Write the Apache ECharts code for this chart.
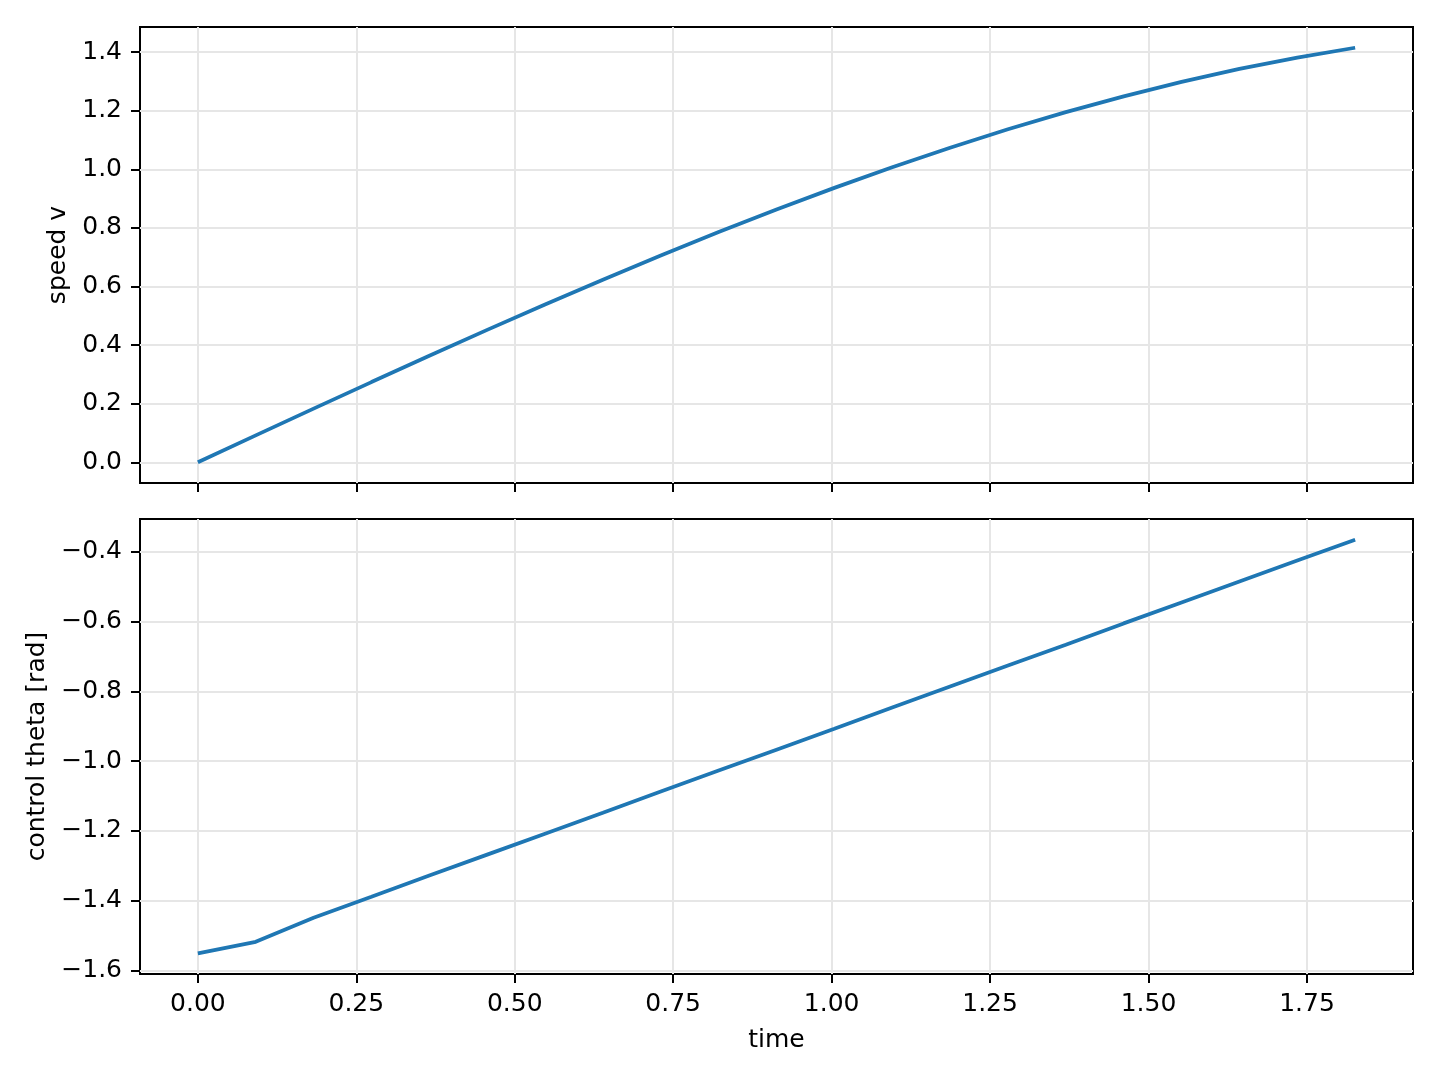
<!DOCTYPE html>
<html>
<head>
<meta charset="utf-8">
<script src="https://cdn.jsdelivr.net/npm/echarts@6/dist/echarts.min.js"></script>
<style>
html,body{margin:0;padding:0;background:#fff;}
#chart{width:1440px;height:1080px;}
</style>
</head>
<body>
<div id="chart"></div>
<script>
const time = [0, 0.0913, 0.1826, 0.2739, 0.3652, 0.4565, 0.5478, 0.6391, 0.7304, 0.8217, 0.913, 1.0043, 1.0956, 1.1869, 1.2782, 1.3695, 1.4608, 1.5521, 1.6434, 1.7347, 1.826];
const speedV = [0, 0.0917, 0.1831, 0.2738, 0.3636, 0.4520, 0.5387, 0.6235, 0.7060, 0.7860, 0.8631, 0.9369, 1.0074, 1.0741, 1.1369, 1.1954, 1.2494, 1.2987, 1.3432, 1.3818, 1.4154];
const theta = [-1.551, -1.518, -1.449, -1.389, -1.328, -1.268, -1.208, -1.148, -1.087, -1.027, -0.967, -0.907, -0.846, -0.786, -0.726, -0.666, -0.605, -0.545, -0.485, -0.425, -0.365];
const xTicks = [0, 0.25, 0.5, 0.75, 1.0, 1.25, 1.5, 1.75];
const vTicks = [0, 0.2, 0.4, 0.6, 0.8, 1.0, 1.2, 1.4];
const thetaTicks = [-1.6, -1.4, -1.2, -1.0, -0.8, -0.6, -0.4];

function lim(arr) {
  const lo = Math.min(...arr), hi = Math.max(...arr), m = (hi - lo) * 0.05;
  return [lo - m, hi + m];
}
const xl = lim(time), vl = lim(speedV), tl = lim(theta);
const FONT = 'DejaVu Sans';
const FS = 25;
const fmt = (d) => (v) => (v < 0 ? '\u2212' + Math.abs(v).toFixed(d) : v.toFixed(d));
const gridLine = { show: true, lineStyle: { color: '#e6e6e6', width: 2 } };
const noLine = { show: false, onZero: false };
const tick = (vals) => ({ show: true, inside: false, length: 9, customValues: vals, lineStyle: { color: '#000', width: 2 } });

const chart = echarts.init(document.getElementById('chart'), null, { renderer: 'canvas' });
chart.setOption({
  animation: false,
  backgroundColor: '#fff',
  grid: [
    { left: 140, top: 27, width: 1273, height: 456, show: true, borderColor: '#000', borderWidth: 2, backgroundColor: 'transparent' },
    { left: 140, top: 519, width: 1273, height: 455, show: true, borderColor: '#000', borderWidth: 2, backgroundColor: 'transparent' }
  ],
  xAxis: [
    { type: 'value', gridIndex: 0, min: xl[0], max: xl[1], position: 'bottom',
      axisLine: noLine, axisTick: tick(xTicks),
      axisLabel: { show: false, customValues: xTicks },
      splitLine: gridLine },
    { type: 'value', gridIndex: 1, min: xl[0], max: xl[1], position: 'bottom',
      name: 'time', nameLocation: 'middle', nameGap: 54,
      nameTextStyle: { fontFamily: FONT, fontSize: FS, color: '#000' },
      axisLine: noLine, axisTick: tick(xTicks),
      axisLabel: { show: true, customValues: xTicks, margin: 18, formatter: fmt(2), fontFamily: FONT, fontSize: FS, color: '#000' },
      splitLine: gridLine }
  ],
  yAxis: [
    { type: 'value', gridIndex: 0, min: vl[0], max: vl[1], position: 'left',
      name: 'speed v', nameLocation: 'middle', nameGap: 66,
      nameTextStyle: { fontFamily: FONT, fontSize: FS, color: '#000' },
      axisLine: noLine, axisTick: tick(vTicks),
      axisLabel: { show: true, customValues: vTicks, margin: 18, formatter: fmt(1), fontFamily: FONT, fontSize: FS, color: '#000' },
      splitLine: gridLine },
    { type: 'value', gridIndex: 1, min: tl[0], max: tl[1], position: 'left',
      name: 'control theta [rad]', nameLocation: 'middle', nameGap: 87,
      nameTextStyle: { fontFamily: FONT, fontSize: FS, color: '#000' },
      axisLine: noLine, axisTick: tick(thetaTicks),
      axisLabel: { show: true, customValues: thetaTicks, margin: 18, formatter: fmt(1), fontFamily: FONT, fontSize: FS, color: '#000' },
      splitLine: gridLine }
  ],
  series: [
    { type: 'line', xAxisIndex: 0, yAxisIndex: 0, data: time.map((t, i) => [t, speedV[i]]),
      showSymbol: false, lineStyle: { color: '#1f77b4', width: 3.75 }, itemStyle: { color: '#1f77b4' } },
    { type: 'line', xAxisIndex: 1, yAxisIndex: 1, data: time.map((t, i) => [t, theta[i]]),
      showSymbol: false, lineStyle: { color: '#1f77b4', width: 3.75 }, itemStyle: { color: '#1f77b4' } }
  ]
});
</script>
</body>
</html>
